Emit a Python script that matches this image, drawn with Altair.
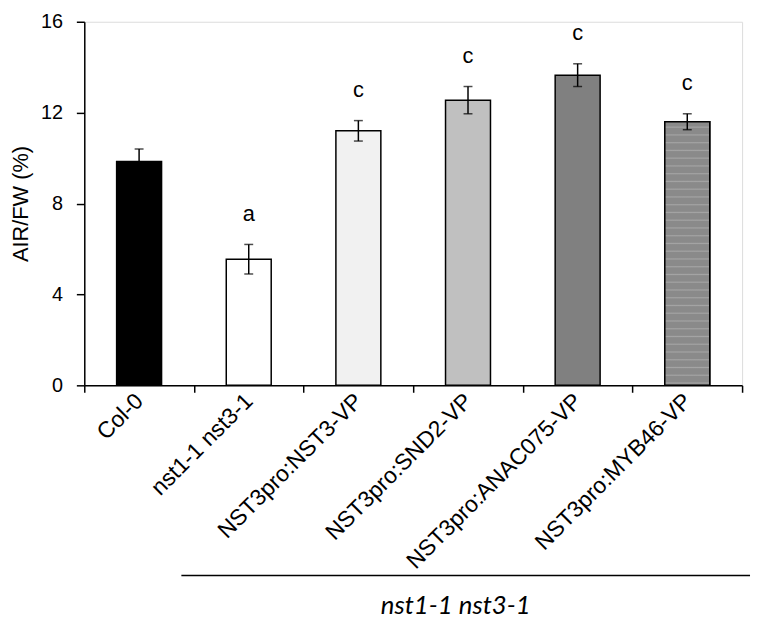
import altair as alt
import pandas as pd

genotypes = ["Col-0", "nst1-1 nst3-1", "NST3pro:NST3-VP", "NST3pro:SND2-VP",
             "NST3pro:ANAC075-VP", "NST3pro:MYB46-VP"]
means = [9.85, 5.55, 11.2, 12.55, 13.65, 11.6]
errors = [0.55, 0.65, 0.45, 0.6, 0.5, 0.35]
letters = ["", "a", "c", "c", "c", "c"]
fills = ["#000000", "#ffffff", "#f1f1f1", "#c0c0c0", "#808080", "#8c8c8c"]

df = pd.DataFrame({
    "genotype": genotypes,
    "mean": means,
    "err": errors,
    "letter": letters,
})
df["lo"] = df["mean"] - df["err"]
df["hi"] = df["mean"] + df["err"]

W, H = 664, 367
FONT = "Liberation Sans"

x = alt.X("genotype:N", sort=genotypes,
          scale=alt.Scale(paddingInner=0, paddingOuter=0),
          axis=alt.Axis(title=None, labelAngle=-45, labelAlign="right",
                        labelBaseline="middle", labelFontSize=23,
                        labelFont=FONT, labelColor="black", labelPadding=5,
                        tickSize=7, tickBand="extent", tickColor="black",
                        tickWidth=1.5, domainColor="black", domainWidth=1.5,
                        labelLimit=400))
y_scale = alt.Scale(domain=[0, 16], nice=False)

base = alt.Chart(df)

bars = base.mark_bar(width=alt.RelativeBandSize(0.41), stroke="black",
                     strokeWidth=1.5).encode(
    x=x,
    y=alt.Y("mean:Q", scale=y_scale,
            axis=alt.Axis(title="AIR/FW (%)", values=[0, 4, 8, 12, 16],
                          titleFontSize=22, titleFont=FONT,
                          titleFontWeight="normal", titleColor="black",
                          titlePadding=8, labelFontSize=20, labelFont=FONT,
                          labelColor="black", labelPadding=14, tickSize=8,
                          tickColor="black", tickWidth=1.5,
                          domainColor="black", domainWidth=1.5, grid=False)),
    color=alt.Color("genotype:N", sort=genotypes,
                    scale=alt.Scale(domain=genotypes, range=fills), legend=None),
)

# horizontal stripe texture for the MYB46 bar
n_str = 34
stops = []
for i in range(n_str):
    p = i / n_str
    stops.append(alt.GradientStop(offset=p, color="#8a8a8a"))
    stops.append(alt.GradientStop(offset=p + 0.55 / n_str, color="#8a8a8a"))
    stops.append(alt.GradientStop(offset=p + 0.7 / n_str, color="#a4a4a4"))
    stops.append(alt.GradientStop(offset=p + 0.85 / n_str, color="#8a8a8a"))
stops.append(alt.GradientStop(offset=1, color="#8a8a8a"))
striped = base.transform_filter(
    alt.datum.genotype == "NST3pro:MYB46-VP"
).mark_bar(width=alt.RelativeBandSize(0.41), stroke="black", strokeWidth=1.5,
           fill=alt.Gradient(gradient="linear", stops=stops,
                             x1=0, x2=0, y1=0, y2=1)).encode(
    x=alt.X("genotype:N", sort=genotypes),
    y=alt.Y("mean:Q", scale=y_scale),
)

rules = base.mark_rule(color="black", strokeWidth=1.5).encode(
    x=alt.X("genotype:N", sort=genotypes),
    y=alt.Y("lo:Q", scale=y_scale),
    y2="hi:Q",
)
caps_hi = base.mark_tick(color="black", size=9, thickness=1.5).encode(
    x=alt.X("genotype:N", sort=genotypes),
    y=alt.Y("hi:Q", scale=y_scale),
)
caps_lo = base.mark_tick(color="black", size=9, thickness=1.5).encode(
    x=alt.X("genotype:N", sort=genotypes),
    y=alt.Y("lo:Q", scale=y_scale),
)
text = base.mark_text(font=FONT, fontSize=22, color="black", dy=-19,
                      baseline="bottom").encode(
    x=alt.X("genotype:N", sort=genotypes),
    y=alt.Y("hi:Q", scale=y_scale),
    text="letter:N",
)

bracket = alt.Chart(pd.DataFrame({"k": [0]})).mark_rule(
    color="black", strokeWidth=1.5).encode(
    x=alt.value(98), x2=alt.value(672), y=alt.value(559))
bracket_text = alt.Chart(pd.DataFrame({"t": ["nst1-1 nst3-1"]})).mark_text(
    font="Lato", fontStyle="italic", fontSize=26, color="black",
    baseline="middle", align="center").encode(
    x=alt.value(375), y=alt.value(590), text="t:N")

chart = alt.layer(bars, striped, rules, caps_hi, caps_lo, text, bracket,
                  bracket_text).properties(
    width=W, height=H,
    autosize=alt.AutoSizeParams(type="none"),
    padding={"left": 77, "top": 11, "right": 10, "bottom": 235},
).configure_view(stroke=None).configure(background="white")

chart.save("out.html", embed_options={"renderer": "svg", "actions": False})
